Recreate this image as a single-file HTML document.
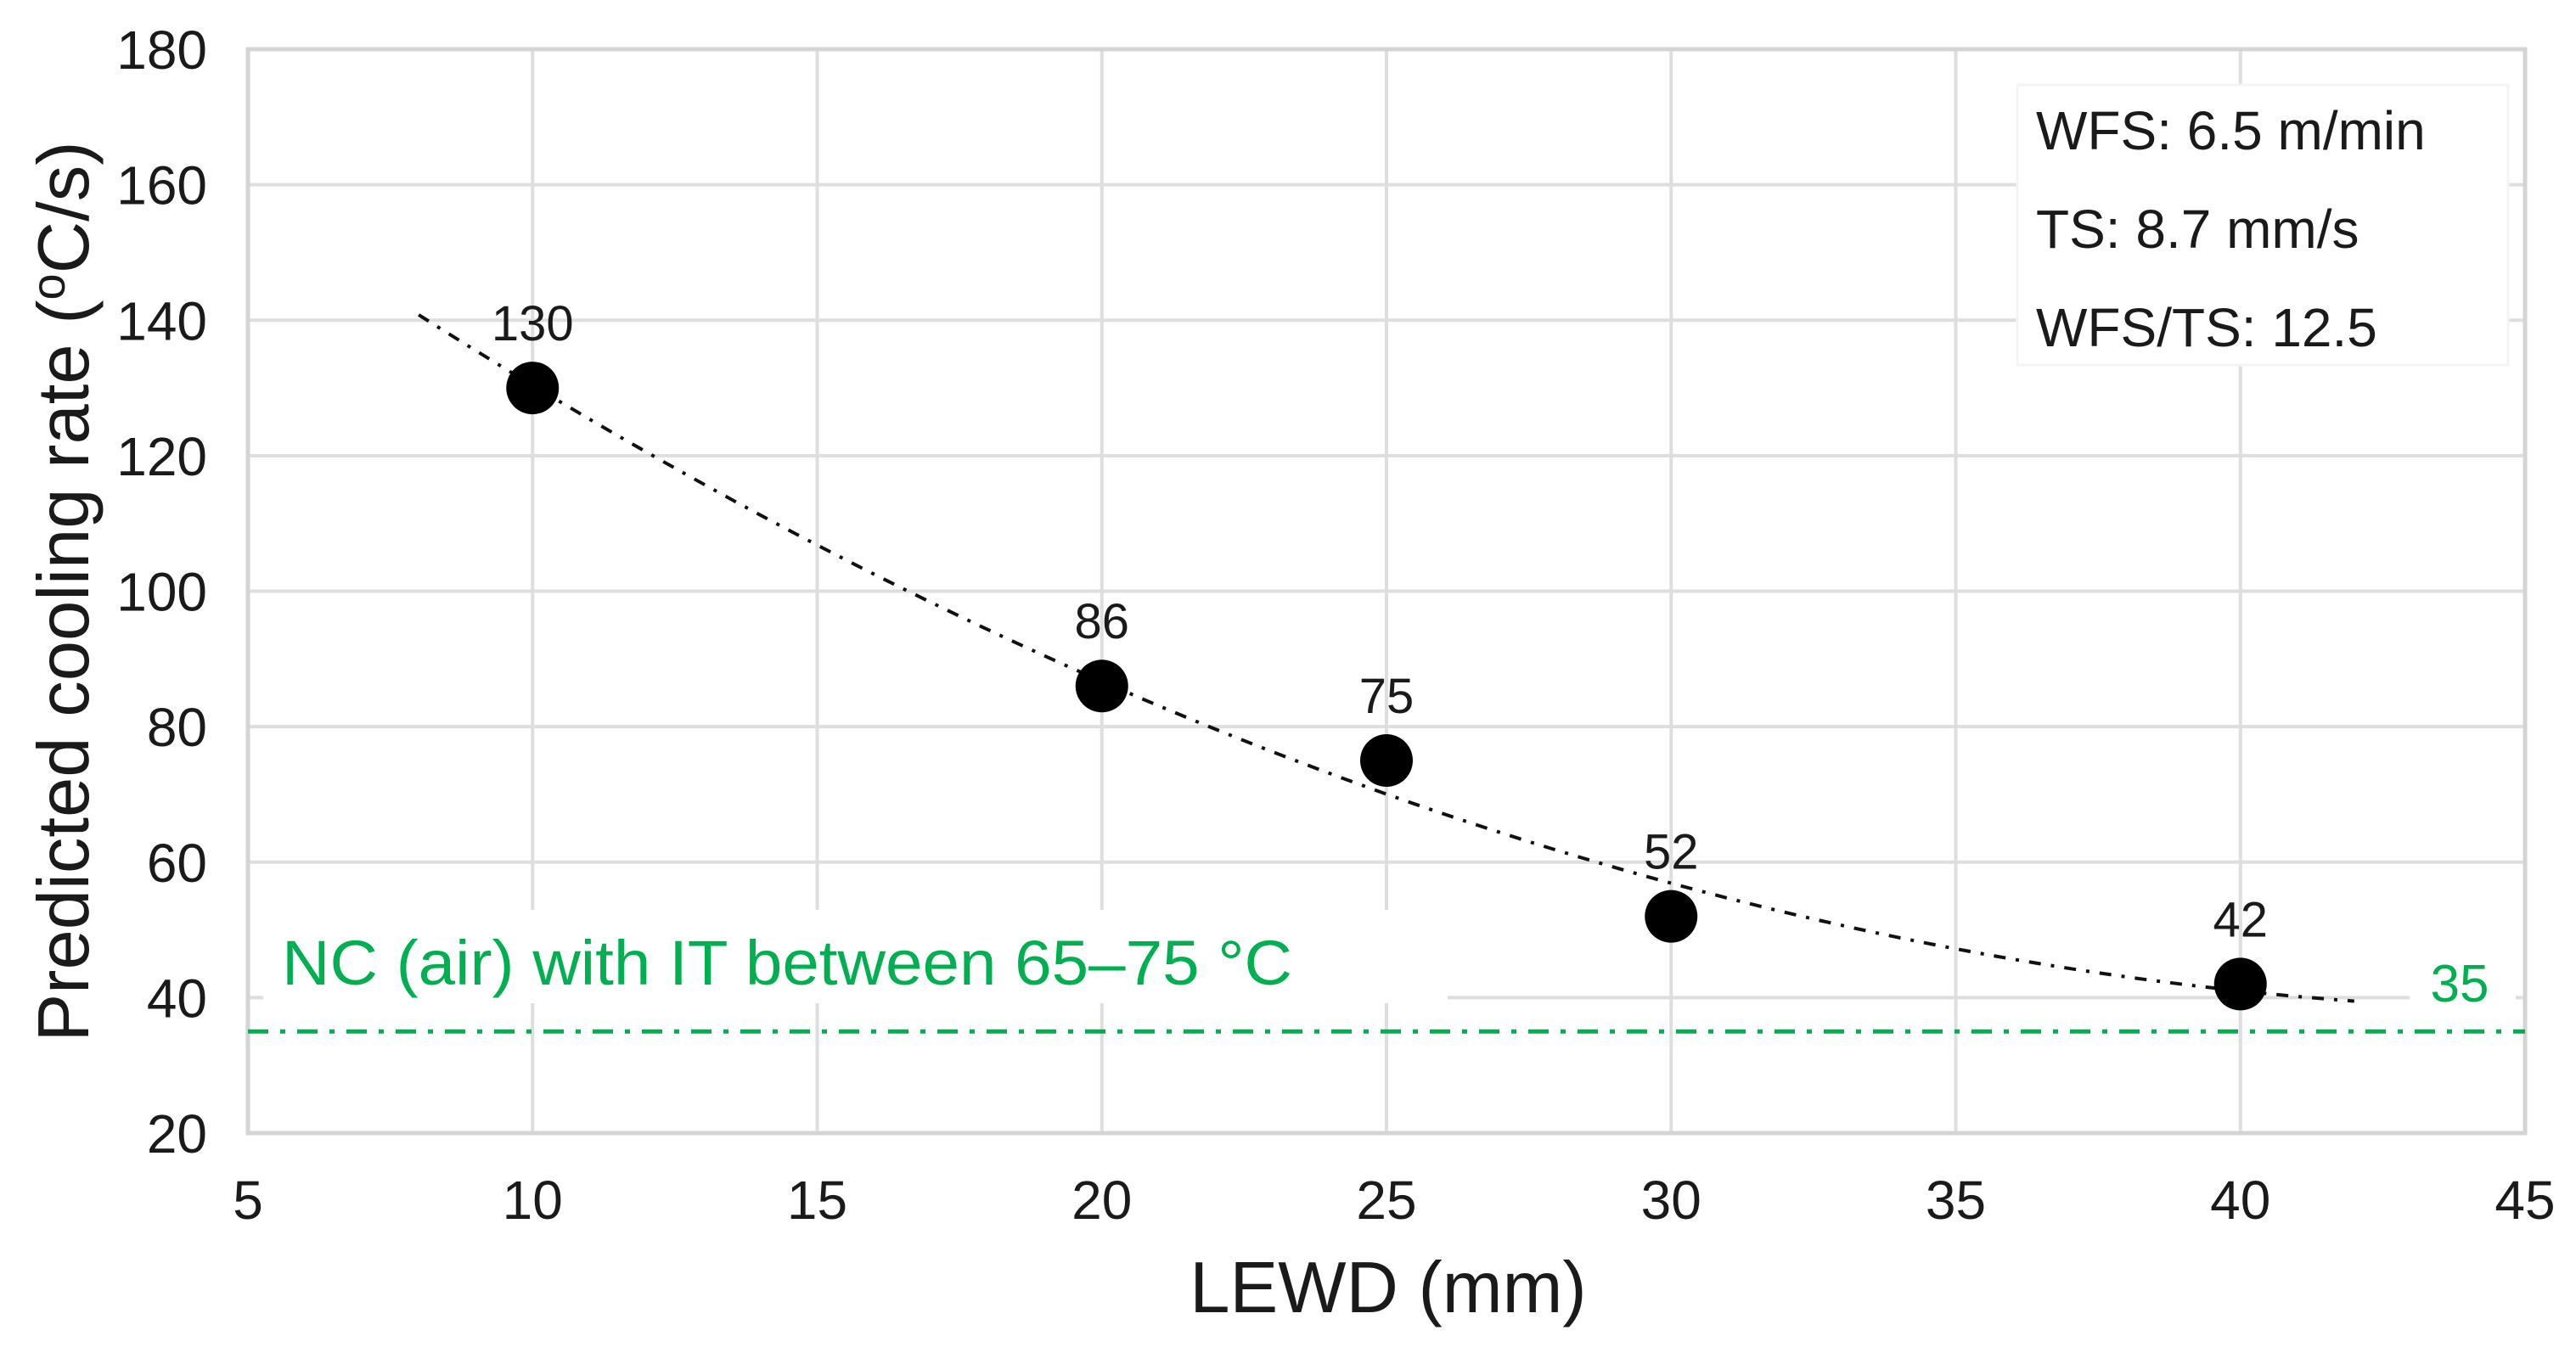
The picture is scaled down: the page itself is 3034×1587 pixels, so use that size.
<!DOCTYPE html>
<html><head><meta charset="utf-8"><style>
html,body{margin:0;padding:0;background:#fff;}
svg{display:block;font-family:"Liberation Sans",sans-serif;}
</style></head><body>
<svg id="chart" width="3034" height="1587" viewBox="0 0 3034 1587" xmlns="http://www.w3.org/2000/svg">
<g id="grid"></g>
<g id="axes"></g>
<g id="marks"></g>
<rect x="2376" y="100" width="578" height="330" fill="#fff" stroke="#f4f4f4" stroke-width="3"/>
<text x="2398" y="176" font-size="64" fill="#1a1a1a">WFS: 6.5 m/min</text>
<text x="2398" y="292" font-size="64" fill="#1a1a1a">TS: 8.7 mm/s</text>
<text x="2398" y="408" font-size="64" fill="#1a1a1a">WFS/TS: 12.5</text>
<text x="1635" y="1546" font-size="85" text-anchor="middle" fill="#1a1a1a">LEWD (mm)</text>
<text transform="translate(104,697) rotate(-90)" font-size="85" text-anchor="middle" fill="#1a1a1a">Predicted cooling rate (<tspan font-size="56" dy="-28">o</tspan><tspan dy="28">C/s)</tspan></text>
</svg>
<script>
const xVals = [10, 20, 25, 30, 40];
const yVals = [130, 86, 75, 52, 42];
const xTicks = [5, 10, 15, 20, 25, 30, 35, 40, 45];
const yTicks = [20, 40, 60, 80, 100, 120, 140, 160, 180];
const thresholdValue = [35];
const trendRange = [8, 42];

const L=292,R=2974,T=58,B=1335;
const xMin=5,xMax=45,yMin=20,yMax=180;
const X=v=>L+(v-xMin)/(xMax-xMin)*(R-L);
const Y=v=>B-(v-yMin)/(yMax-yMin)*(B-T);
const NS='http://www.w3.org/2000/svg';
function mk(tag,attrs,parent,text){const e=document.createElementNS(NS,tag);for(const k in attrs)e.setAttribute(k,attrs[k]);if(text!==undefined)e.textContent=text;parent.appendChild(e);return e;}
const grid=document.getElementById('grid'),axes=document.getElementById('axes'),marks=document.getElementById('marks');

yTicks.forEach(t=>{
  const l=mk('line',{x1:L,x2:R,y1:Y(t),y2:Y(t),stroke:'#dedede','stroke-width':4},grid);
  
  
  const tx=mk('text',{x:L-48,y:Y(t)+23,'font-size':64,'text-anchor':'end',fill:'#1a1a1a'},axes,String(t));
  
  
});
xTicks.forEach(t=>{
  const l=mk('line',{x1:X(t),x2:X(t),y1:T,y2:B,stroke:'#dedede','stroke-width':4},grid);
  
  
  const tx=mk('text',{x:X(t),y:1436,'font-size':64,'text-anchor':'middle',fill:'#1a1a1a'},axes,String(t));
  
  
});
const frame=mk('rect',{x:L,y:T,width:R-L,height:B-T,fill:'none',stroke:'#d4d4d4','stroke-width':5},axes);



const th=thresholdValue[0];
const tl=mk('line',{x1:L,x2:R,y1:Y(th),y2:Y(th),stroke:'#00b050','stroke-width':5,'stroke-dasharray':'24 14 6 14'},marks);


const lb=mk('rect',{x:310,y:1072,width:1395,height:110,fill:'#fff'},marks);


const lt=mk('text',{x:332,y:1160,'font-size':74,fill:'#00b050',textLength:1190,lengthAdjust:'spacingAndGlyphs'},marks,'NC (air) with IT between 65–75 °C');


const vb=mk('rect',{x:2838,y:1080,width:125,height:110,fill:'#fff'},marks);


const vt=mk('text',{x:2897,y:1180,'font-size':62,'text-anchor':'middle',fill:'#00b050'},marks,String(th));



(function(){
  let S=[0,0,0,0,0],Ty=[0,0,0];
  xVals.forEach((x,i)=>{for(let k=0;k<5;k++)S[k]+=Math.pow(x,k);for(let k=0;k<3;k++)Ty[k]+=yVals[i]*Math.pow(x,k);});
  const M=[[S[0],S[1],S[2],Ty[0]],[S[1],S[2],S[3],Ty[1]],[S[2],S[3],S[4],Ty[2]]];
  for(let i=0;i<3;i++){for(let j=i+1;j<3;j++){const f=M[j][i]/M[i][i];for(let k=i;k<4;k++)M[j][k]-=f*M[i][k];}}
  const c=[0,0,0];for(let i=2;i>=0;i--){let s=M[i][3];for(let k=i+1;k<3;k++)s-=M[i][k]*c[k];c[i]=s/M[i][i];}
  let d='';for(let i=0;i<=80;i++){const x=trendRange[0]+(trendRange[1]-trendRange[0])*i/80;const y=c[0]+c[1]*x+c[2]*x*x;d+=(i?'L':'M')+X(x).toFixed(1)+' '+Y(y).toFixed(1);}
  const p=mk('path',{d:d,fill:'none',stroke:'#111','stroke-width':4,'stroke-dasharray':'14 12 4 12'},marks);
  
  
})();

xVals.forEach((x,i)=>{
  const c=mk('circle',{cx:X(x),cy:Y(yVals[i]),r:31,fill:'#000'},marks);
  
  
  const t=mk('text',{x:X(x),y:Y(yVals[i])-56,'font-size':58,'text-anchor':'middle',fill:'#1a1a1a'},marks,String(yVals[i]));
  
  
});
</script>
</body></html>
